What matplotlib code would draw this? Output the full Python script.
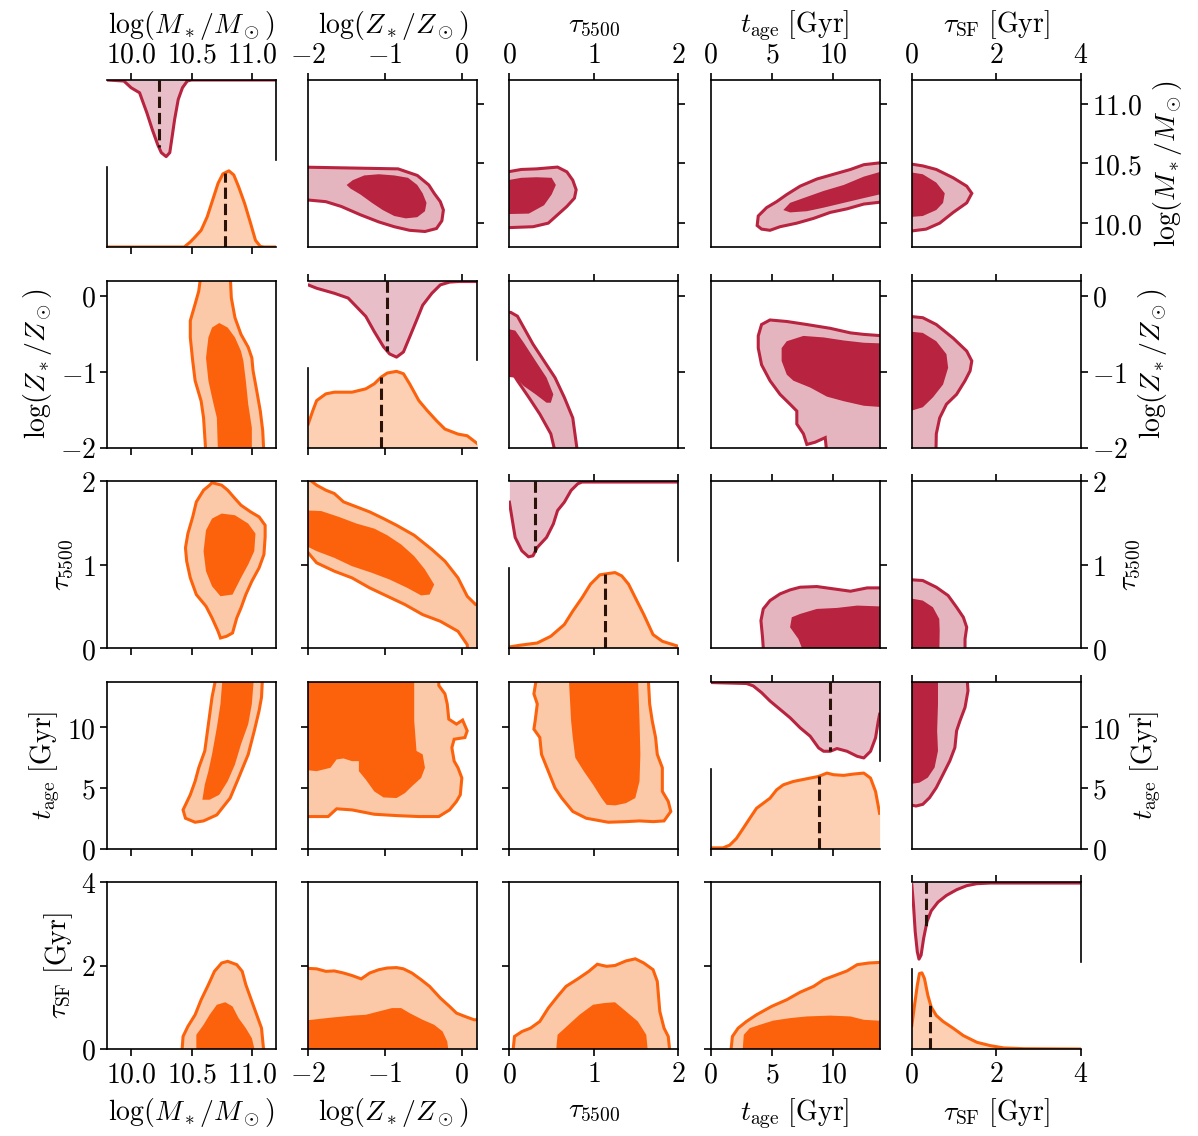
import numpy as np
import matplotlib.pyplot as plt

plt.rcParams['mathtext.fontset'] = 'cm'
plt.rcParams['font.size'] = 20
plt.rcParams['axes.linewidth'] = 1.2
for a in ('xtick', 'ytick'):
    plt.rcParams[a + '.direction'] = 'out'
    plt.rcParams[a + '.major.size'] = 5
    plt.rcParams[a + '.major.width'] = 1.2
    plt.rcParams[a + '.major.pad'] = 3

# parameters
labels = [r'$\log(M_*/M_\odot)$', r'$\log(Z_*/Z_\odot)$', r'$\tau_{5500}$',
          r'$t_\mathrm{age}\ [\mathrm{Gyr}]$', r'$\tau_\mathrm{SF}\ [\mathrm{Gyr}]$']
lims = [(9.8, 11.2), (-2.0, 0.2), (0.0, 2.0), (0.0, 13.8), (0.0, 4.0)]
ticks = [[10.0, 10.5, 11.0], [-2, -1, 0], [0, 1, 2], [0, 5, 10], [0, 2, 4]]
tick_text = [['10.0', '10.5', '11.0'], ['-2', '-1', '0'], ['0', '1', '2'],
             ['0', '5', '10'], ['0', '2', '4']]

# ---- lower triangle (orange) contours: (x, y) vertices ----
org_M_Z_out = [(10.58, 0.3), (10.56, 0.06), (10.53, -0.11), (10.49, -0.33), (10.49, -0.55),
               (10.51, -0.86), (10.53, -1.12), (10.58, -1.39), (10.60, -1.61), (10.62, -2.1),
               (11.10, -2.1), (11.09, -1.78), (11.07, -1.52), (11.04, -1.25), (11.01, -0.99),
               (11.0, -0.82), (10.97, -0.68), (10.91, -0.51), (10.86, -0.29), (10.83, -0.03),
               (10.82, 0.3)]
org_M_Z_in = [(10.73, -0.36), (10.67, -0.42), (10.64, -0.55), (10.62, -0.82), (10.64, -1.12),
              (10.67, -1.34), (10.71, -1.61), (10.72, -2.1), (11.0, -2.1), (11.0, -1.74),
              (10.97, -1.43), (10.95, -1.12), (10.93, -0.86), (10.91, -0.73), (10.86, -0.55),
              (10.80, -0.42)]
org_M_tau_out = [(10.67, 1.98), (10.75, 1.95), (10.80, 1.89), (10.86, 1.79), (10.91, 1.71),
                 (10.99, 1.63), (11.06, 1.57), (11.11, 1.47), (11.11, 1.33), (11.10, 1.12),
                 (11.06, 0.96), (11.0, 0.80), (10.95, 0.64), (10.91, 0.48), (10.875, 0.36),
                 (10.84, 0.18), (10.79, 0.14), (10.74, 0.12), (10.72, 0.20), (10.67, 0.36),
                 (10.62, 0.50), (10.54, 0.64), (10.49, 0.84), (10.46, 1.04), (10.45, 1.20),
                 (10.47, 1.37), (10.51, 1.57), (10.54, 1.75), (10.60, 1.89), (10.65, 1.95)]
org_M_tau_in = [(10.75, 1.61), (10.86, 1.59), (10.97, 1.49), (11.03, 1.37), (11.02, 1.16),
                (10.97, 1.0), (10.91, 0.84), (10.84, 0.64), (10.74, 0.62), (10.67, 0.74),
                (10.62, 0.92), (10.60, 1.16), (10.62, 1.41), (10.67, 1.55)]
org_Z_tau_out = [(-2.1, 2.1), (-1.89, 1.95), (-1.77, 1.89), (-1.66, 1.85), (-1.54, 1.75),
                 (-1.37, 1.69), (-1.20, 1.63), (-1.02, 1.55), (-0.85, 1.47), (-0.62, 1.35),
                 (-0.39, 1.18), (-0.22, 1.04), (-0.05, 0.84), (0.07, 0.62), (0.18, 0.52),
                 (0.3, 0.52), (0.3, -0.1), (0.08, -0.1), (0.07, 0.04), (-0.05, 0.20),
                 (-0.28, 0.32), (-0.51, 0.40), (-0.74, 0.52), (-0.97, 0.62), (-1.20, 0.72),
                 (-1.43, 0.84), (-1.66, 0.92), (-1.89, 1.02), (-2.0, 1.14), (-2.1, 1.14)]
org_Z_tau_in = [(-2.1, 1.65), (-1.83, 1.64), (-1.60, 1.57), (-1.37, 1.49), (-1.14, 1.43),
                (-0.97, 1.35), (-0.79, 1.24), (-0.62, 1.10), (-0.48, 0.94), (-0.36, 0.76),
                (-0.42, 0.64), (-0.53, 0.63), (-0.71, 0.72), (-0.94, 0.82), (-1.17, 0.90),
                (-1.43, 0.98), (-1.66, 1.08), (-1.89, 1.16), (-2.0, 1.21), (-2.1, 1.21)]
org_M_age_out = [(10.71, 14.5), (10.67, 12.5), (10.64, 10.28), (10.61, 8.06), (10.56, 6.67),
                 (10.53, 5.56), (10.49, 4.44), (10.43, 3.19), (10.45, 2.5), (10.53, 2.17),
                 (10.60, 2.28), (10.71, 2.78), (10.82, 4.17), (10.89, 5.83), (10.97, 7.78),
                 (11.02, 9.72), (11.06, 11.39), (11.08, 12.5), (11.09, 14.5)]
org_M_age_in = [(10.76, 14.5), (10.74, 11.94), (10.71, 10.0), (10.67, 7.78), (10.64, 6.39),
                (10.61, 5.28), (10.59, 4.03), (10.65, 4.03), (10.73, 4.44), (10.80, 5.56),
                (10.86, 6.94), (10.91, 8.61), (10.97, 10.28), (11.0, 11.94), (11.02, 14.5)]
org_Z_age_out = [(-2.1, 14.5), (-2.1, 2.64), (-1.74, 2.64), (-1.63, 3.28), (-1.43, 3.19),
                 (-1.14, 2.83), (-0.85, 2.72), (-0.56, 2.64), (-0.30, 2.64), (-0.16, 3.19),
                 (-0.07, 3.89), (-0.02, 4.44), (0.0, 5.83), (-0.05, 6.67), (-0.10, 7.22),
                 (-0.13, 8.33), (-0.10, 9.03), (0.04, 9.17), (0.07, 9.72), (0.01, 10.61),
                 (-0.07, 10.28), (-0.17, 10.69), (-0.19, 11.94), (-0.22, 12.78), (-0.30, 13.47),
                 (-0.30, 14.5)]
org_Z_age_in = [(-2.1, 14.5), (-2.1, 6.53), (-1.89, 6.39), (-1.71, 6.67), (-1.63, 7.36),
                (-1.54, 7.44), (-1.43, 7.22), (-1.34, 7.22), (-1.34, 6.39), (-1.25, 5.69),
                (-1.14, 4.72), (-1.02, 4.22), (-0.85, 4.17), (-0.74, 4.58), (-0.65, 5.14),
                (-0.53, 5.83), (-0.48, 6.67), (-0.51, 7.78), (-0.59, 8.06), (-0.62, 10.56),
                (-0.62, 14.5)]
org_tau_age_out = [(0.33, 14.5), (0.29, 12.78), (0.33, 11.94), (0.305, 10.56), (0.29, 9.86),
                   (0.36, 9.17), (0.38, 7.78), (0.46, 6.39), (0.54, 5.0), (0.62, 4.17),
                   (0.75, 3.06), (0.91, 2.5), (1.17, 2.17), (1.38, 2.22), (1.54, 2.28),
                   (1.70, 2.22), (1.83, 2.28), (1.91, 3.06), (1.88, 3.89), (1.81, 4.72),
                   (1.81, 5.83), (1.81, 6.67), (1.75, 7.78), (1.73, 9.17), (1.69, 10.56),
                   (1.66, 11.94), (1.64, 14.5)]
org_tau_age_in = [(0.70, 14.5), (0.73, 10.56), (0.75, 9.17), (0.78, 7.5), (0.88, 6.39),
                  (0.99, 5.28), (1.09, 4.17), (1.15, 3.61), (1.25, 3.56), (1.38, 3.75),
                  (1.49, 4.17), (1.54, 5.56), (1.55, 7.78), (1.54, 10.56), (1.52, 14.5)]
org_M_sf_out = [(10.42, -0.1), (10.43, 0.30), (10.47, 0.54), (10.53, 0.82), (10.58, 1.18),
                (10.64, 1.54), (10.69, 1.86), (10.75, 2.06), (10.80, 2.10), (10.875, 2.02),
                (10.92, 1.86), (10.95, 1.54), (10.99, 1.22), (11.04, 0.82), (11.08, 0.50),
                (11.10, -0.1)]
org_M_sf_in = [(10.54, -0.1), (10.54, 0.34), (10.60, 0.58), (10.65, 0.82), (10.71, 1.06),
               (10.78, 1.12), (10.84, 1.02), (10.89, 0.74), (10.95, 0.50), (11.0, 0.26),
               (11.03, -0.1)]
org_Z_sf_out = [(-2.1, -0.1), (-2.1, 1.94), (-1.89, 1.92), (-1.77, 1.86), (-1.66, 1.87),
                (-1.54, 1.82), (-1.43, 1.76), (-1.31, 1.68), (-1.20, 1.82), (-1.08, 1.90),
                (-0.97, 1.94), (-0.85, 1.95), (-0.76, 1.92), (-0.65, 1.82), (-0.53, 1.66),
                (-0.42, 1.50), (-0.28, 1.22), (-0.16, 1.02), (-0.07, 0.86), (0.04, 0.78),
                (0.16, 0.70), (0.3, 0.70), (0.3, -0.1)]
org_Z_sf_in = [(-2.1, -0.1), (-2.1, 0.67), (-1.71, 0.75), (-1.43, 0.80), (-1.25, 0.82),
               (-1.08, 0.90), (-0.91, 0.98), (-0.79, 0.98), (-0.68, 0.86), (-0.51, 0.70),
               (-0.36, 0.58), (-0.25, 0.42), (-0.19, 0.18), (-0.17, -0.1)]
org_tau_sf_out = [(0.04, -0.1), (0.06, 0.30), (0.15, 0.42), (0.25, 0.50), (0.36, 0.66),
                  (0.46, 0.98), (0.57, 1.26), (0.67, 1.50), (0.81, 1.68), (0.94, 1.86),
                  (1.04, 2.03), (1.15, 1.98), (1.25, 2.0), (1.38, 2.11), (1.49, 2.16),
                  (1.59, 2.06), (1.70, 1.90), (1.75, 1.62), (1.78, 0.90), (1.83, 0.50),
                  (1.88, 0.30), (1.90, -0.1)]
org_tau_sf_in = [(0.55, -0.1), (0.57, 0.34), (0.70, 0.58), (0.83, 0.82), (0.99, 1.06),
                 (1.12, 1.10), (1.25, 1.12), (1.38, 0.90), (1.52, 0.66), (1.62, 0.34),
                 (1.64, -0.1)]
org_age_sf_out = [(1.64, -0.1), (1.78, 0.30), (2.25, 0.50), (2.93, 0.66), (3.75, 0.82),
                  (4.98, 1.02), (6.22, 1.18), (7.31, 1.36), (8.41, 1.50), (9.23, 1.66),
                  (10.32, 1.78), (11.14, 1.87), (11.97, 2.02), (12.92, 2.06), (14.2, 2.08),
                  (14.2, -0.1)]
org_age_sf_in = [(2.60, -0.1), (2.71, 0.34), (3.20, 0.50), (4.02, 0.58), (5.12, 0.68),
                 (6.49, 0.74), (7.86, 0.78), (9.77, 0.80), (11.42, 0.78), (12.51, 0.70),
                 (14.2, 0.67), (14.2, -0.1)]

# ---- upper triangle (crimson) contours ----
crm_Z_M_out = [(-2.1, 10.47), (-0.83, 10.455), (-0.58, 10.40), (-0.43, 10.32), (-0.36, 10.25),
               (-0.28, 10.18), (-0.24, 10.11), (-0.26, 10.02), (-0.33, 9.955), (-0.48, 9.93),
               (-0.68, 9.94), (-0.88, 9.97), (-1.08, 10.01), (-1.32, 10.07), (-1.57, 10.14),
               (-1.77, 10.18), (-2.1, 10.20)]
crm_Z_M_in = [(-1.50, 10.32), (-1.42, 10.36), (-1.27, 10.40), (-1.08, 10.41), (-0.88, 10.40),
              (-0.70, 10.38), (-0.58, 10.32), (-0.51, 10.25), (-0.46, 10.17), (-0.48, 10.10),
              (-0.58, 10.05), (-0.73, 10.04), (-0.88, 10.06), (-1.03, 10.11), (-1.17, 10.17),
              (-1.32, 10.24), (-1.45, 10.29)]
crm_tau_M_out = [(-0.1, 10.42), (0.14, 10.45), (0.32, 10.455), (0.57, 10.47), (0.68, 10.43),
                 (0.75, 10.36), (0.79, 10.28), (0.77, 10.21), (0.68, 10.14), (0.57, 10.07),
                 (0.46, 10.0), (0.28, 9.97), (-0.1, 9.96)]
crm_tau_M_in = [(-0.1, 10.35), (0.14, 10.38), (0.32, 10.385), (0.50, 10.38), (0.55, 10.32),
                (0.50, 10.24), (0.41, 10.15), (0.23, 10.08), (-0.1, 10.075)]
crm_age_M_out = [(3.89, 10.06), (4.57, 10.13), (5.39, 10.18), (6.22, 10.24), (7.31, 10.31),
                 (8.68, 10.37), (10.05, 10.41), (11.42, 10.45), (12.51, 10.49), (14.2, 10.51),
                 (14.2, 10.18), (12.51, 10.16), (11.14, 10.12), (9.77, 10.09), (8.41, 10.04),
                 (7.04, 10.0), (5.67, 9.97), (4.85, 9.94), (4.16, 9.95), (3.80, 9.98)]
crm_age_M_in = [(5.94, 10.11), (6.49, 10.17), (7.58, 10.21), (9.23, 10.27), (10.87, 10.32),
                (12.51, 10.39), (14.2, 10.44), (14.2, 10.25), (12.51, 10.21), (10.87, 10.17),
                (9.23, 10.13), (7.86, 10.10), (6.49, 10.09)]
crm_sf_M_out = [(-0.1, 10.50), (0.26, 10.48), (0.58, 10.45), (0.98, 10.38), (1.30, 10.31),
                (1.42, 10.25), (1.30, 10.17), (0.98, 10.09), (0.66, 10.0), (0.34, 9.95),
                (-0.1, 9.93)]
crm_sf_M_in = [(-0.1, 10.43), (0.26, 10.41), (0.58, 10.34), (0.78, 10.25), (0.74, 10.17),
               (0.58, 10.11), (0.26, 10.06), (-0.1, 10.05)]
crm_tau_Z_out = [(-0.1, -0.22), (0.016, -0.22), (0.095, -0.27), (0.17, -0.42), (0.28, -0.64),
                 (0.41, -0.86), (0.54, -1.08), (0.65, -1.34), (0.75, -1.61), (0.81, -2.1),
                 (0.55, -2.1), (0.49, -1.82), (0.36, -1.56), (0.23, -1.34), (0.095, -1.12),
                 (0.0, -0.95), (-0.1, -0.95)]
crm_tau_Z_in = [(-0.1, -0.42), (0.07, -0.46), (0.17, -0.62), (0.31, -0.86), (0.44, -1.08),
                (0.52, -1.30), (0.49, -1.41), (0.44, -1.41), (0.31, -1.30), (0.17, -1.19),
                (0.07, -1.08), (-0.1, -1.06)]
crm_age_Z_out = [(3.89, -0.53), (4.16, -0.38), (4.85, -0.32), (6.22, -0.34), (7.86, -0.38),
                 (9.77, -0.43), (11.42, -0.49), (12.51, -0.51), (14.2, -0.53), (14.2, -2.1),
                 (9.50, -2.1), (9.36, -1.87), (8.54, -1.93), (7.86, -1.96), (7.58, -1.82),
                 (7.04, -1.69), (7.04, -1.52), (6.49, -1.43), (5.67, -1.30), (4.85, -1.12),
                 (4.16, -0.91), (3.89, -0.69)]
crm_age_Z_in = [(5.80, -0.69), (6.22, -0.60), (7.58, -0.53), (9.23, -0.55), (10.87, -0.59),
                (12.51, -0.62), (14.2, -0.63), (14.2, -1.47), (12.51, -1.45), (10.87, -1.39),
                (9.50, -1.33), (8.13, -1.21), (6.76, -1.12), (6.22, -1.04), (5.80, -0.86)]
crm_sf_Z_out = [(-0.1, -0.27), (0.26, -0.29), (0.58, -0.38), (0.98, -0.56), (1.30, -0.73),
                (1.42, -0.86), (1.38, -0.99), (1.26, -1.12), (1.06, -1.30), (0.82, -1.43),
                (0.66, -1.61), (0.58, -1.82), (0.57, -2.1), (-0.1, -2.1)]
crm_sf_Z_in = [(-0.1, -0.47), (0.26, -0.49), (0.58, -0.60), (0.82, -0.77), (0.86, -0.95),
               (0.74, -1.17), (0.50, -1.34), (0.26, -1.47), (-0.1, -1.53)]
crm_age_tau_out = [(4.35, -0.1), (4.24, 0.128), (4.11, 0.328), (4.30, 0.468), (4.85, 0.568),
                   (5.67, 0.648), (6.49, 0.696), (7.31, 0.728), (8.68, 0.736), (10.05, 0.708),
                   (11.42, 0.68), (12.79, 0.72), (14.2, 0.72), (14.2, -0.1)]
crm_age_tau_in = [(7.72, -0.1), (7.17, 0.108), (6.49, 0.248), (6.63, 0.368), (7.31, 0.408),
                  (8.68, 0.468), (10.32, 0.48), (11.97, 0.508), (14.2, 0.496), (14.2, -0.1)]
crm_sf_tau_out = [(-0.1, 0.82), (0.26, 0.808), (0.58, 0.728), (0.86, 0.628), (1.06, 0.488),
                  (1.22, 0.368), (1.30, 0.248), (1.26, 0.108), (1.26, -0.1), (-0.1, -0.1)]
crm_sf_tau_in = [(-0.1, 0.60), (0.26, 0.568), (0.50, 0.488), (0.65, 0.348), (0.66, 0.208),
                 (0.65, -0.1), (-0.1, -0.1)]
crm_sf_age_out = [(-0.1, 3.65), (0.10, 3.51), (0.26, 3.65), (0.42, 4.20), (0.58, 5.03),
                  (0.74, 6.13), (0.90, 7.24), (1.02, 8.34), (1.06, 9.72), (1.14, 10.55),
                  (1.26, 11.66), (1.33, 13.04), (1.30, 14.5), (-0.1, 14.5)]
crm_sf_age_in = [(-0.1, 5.30), (0.18, 5.44), (0.38, 5.86), (0.54, 6.69), (0.62, 8.07),
                 (0.60, 9.72), (0.62, 11.93), (0.62, 14.5), (-0.1, 14.5)]

# ---- 1D marginals (x, relative density) and medians ----
d1_M_crm_x = [9.8, 9.94, 10.0, 10.07, 10.10, 10.13, 10.175, 10.22, 10.25, 10.29, 10.32, 10.34,
              10.36, 10.39, 10.425, 10.465, 10.50, 11.2]
d1_M_crm_h = [0, 0.013, 0.097, 0.16, 0.286, 0.41, 0.62, 0.81, 0.91, 0.96, 0.91, 0.706, 0.496,
              0.244, 0.097, 0.013, 0, 0]
d1_M_org_x = [9.8, 10.44, 10.49, 10.53, 10.58, 10.63, 10.675, 10.72, 10.76, 10.81, 10.85, 10.89,
              10.94, 10.99, 11.03, 11.07, 11.10, 11.2]
d1_M_org_h = [0, 0, 0.063, 0.126, 0.21, 0.378, 0.588, 0.798, 0.916, 0.954, 0.903, 0.756, 0.546,
              0.294, 0.084, 0.008, 0, 0]
d1_Z_crm_x = [-2, -1.89, -1.66, -1.48, -1.37, -1.25, -1.14, -1.02, -0.94, -0.85, -0.76, -0.68,
              -0.59, -0.51, -0.39, -0.28, -0.16, -0.05, 0.2]
d1_Z_crm_h = [0.055, 0.097, 0.16, 0.22, 0.33, 0.45, 0.64, 0.83, 0.92, 0.96, 0.895, 0.71, 0.50,
              0.31, 0.16, 0.055, 0.02, 0.013, 0.013]
d1_Z_org_x = [-2, -1.94, -1.89, -1.77, -1.66, -1.43, -1.25, -1.14, -1.05, -0.97, -0.85, -0.76,
              -0.68, -0.56, -0.45, -0.33, -0.22, -0.05, 0.07, 0.2]
d1_Z_org_h = [0.294, 0.462, 0.588, 0.672, 0.693, 0.693, 0.735, 0.798, 0.882, 0.933, 0.954,
              0.924, 0.798, 0.588, 0.462, 0.336, 0.231, 0.168, 0.147, 0.05]
d1_tau_crm_x = [0, 0.068, 0.147, 0.226, 0.279, 0.33, 0.44, 0.52, 0.57, 0.65, 0.73, 0.81, 0.86, 2]
d1_tau_crm_h = [0.265, 0.706, 0.874, 0.95, 0.937, 0.832, 0.706, 0.538, 0.37, 0.265, 0.118,
                0.034, 0.013, 0.013]
d1_tau_org_x = [0, 0.12, 0.33, 0.49, 0.65, 0.75, 0.86, 0.96, 1.07, 1.17, 1.25, 1.33, 1.41, 1.49,
                1.59, 1.70, 1.81, 2]
d1_tau_org_h = [0.013, 0.034, 0.063, 0.147, 0.294, 0.462, 0.63, 0.80, 0.916, 0.933, 0.945,
                0.903, 0.80, 0.63, 0.42, 0.168, 0.084, 0.021]
d1_age_crm_x = [0, 2.93, 3.48, 4.16, 4.85, 5.67, 6.49, 7.31, 8.13, 8.82, 9.23, 9.77, 10.32,
                11.14, 11.97, 12.51, 13.06, 13.47, 13.69, 13.8]
d1_age_crm_h = [0.013, 0.025, 0.055, 0.139, 0.244, 0.349, 0.454, 0.58, 0.685, 0.832, 0.874,
                0.874, 0.84, 0.874, 0.937, 0.958, 0.874, 0.706, 0.496, 0.41]
d1_age_org_x = [0, 1.01, 1.56, 2.11, 2.66, 3.20, 3.75, 4.30, 4.85, 5.39, 5.94, 6.76, 7.86, 8.82,
                9.50, 10.05, 10.87, 11.69, 12.51, 13.06, 13.47, 13.8]
d1_age_org_h = [0.008, 0.008, 0.042, 0.126, 0.252, 0.378, 0.504, 0.567, 0.63, 0.735, 0.798,
                0.84, 0.874, 0.903, 0.945, 0.924, 0.916, 0.933, 0.945, 0.882, 0.714, 0.441]
d1_sf_crm_x = [0, 0.04, 0.08, 0.13, 0.17, 0.22, 0.28, 0.36, 0.46, 0.62, 0.82, 1.06, 1.30, 1.54,
               1.86, 4]
d1_sf_crm_h = [0.034, 0.286, 0.62, 0.874, 0.966, 0.916, 0.706, 0.496, 0.361, 0.252, 0.168,
               0.097, 0.046, 0.021, 0.013, 0.013]
d1_sf_org_x = [0, 0.064, 0.13, 0.18, 0.24, 0.30, 0.38, 0.46, 0.58, 0.74, 0.98, 1.22, 1.54, 1.86,
               2.18, 2.66, 4]
d1_sf_org_h = [0.294, 0.546, 0.798, 0.945, 0.954, 0.882, 0.672, 0.525, 0.42, 0.345, 0.26,
               0.168, 0.084, 0.042, 0.013, 0.004, 0]

med_crm = [10.23, -0.97, 0.305, 9.72, 0.34]
med_org = [10.78, -1.05, 1.13, 8.82, 0.42]

lower = {(1, 0): (org_M_Z_out, org_M_Z_in), (2, 0): (org_M_tau_out, org_M_tau_in),
         (2, 1): (org_Z_tau_out, org_Z_tau_in), (3, 0): (org_M_age_out, org_M_age_in),
         (3, 1): (org_Z_age_out, org_Z_age_in), (3, 2): (org_tau_age_out, org_tau_age_in),
         (4, 0): (org_M_sf_out, org_M_sf_in), (4, 1): (org_Z_sf_out, org_Z_sf_in),
         (4, 2): (org_tau_sf_out, org_tau_sf_in), (4, 3): (org_age_sf_out, org_age_sf_in)}
upper = {(0, 1): (crm_Z_M_out, crm_Z_M_in), (0, 2): (crm_tau_M_out, crm_tau_M_in),
         (0, 3): (crm_age_M_out, crm_age_M_in), (0, 4): (crm_sf_M_out, crm_sf_M_in),
         (1, 2): (crm_tau_Z_out, crm_tau_Z_in), (1, 3): (crm_age_Z_out, crm_age_Z_in),
         (1, 4): (crm_sf_Z_out, crm_sf_Z_in), (2, 3): (crm_age_tau_out, crm_age_tau_in),
         (2, 4): (crm_sf_tau_out, crm_sf_tau_in), (3, 4): (crm_sf_age_out, crm_sf_age_in)}
diag_crm = [(d1_M_crm_x, d1_M_crm_h), (d1_Z_crm_x, d1_Z_crm_h), (d1_tau_crm_x, d1_tau_crm_h),
            (d1_age_crm_x, d1_age_crm_h), (d1_sf_crm_x, d1_sf_crm_h)]
diag_org = [(d1_M_org_x, d1_M_org_h), (d1_Z_org_x, d1_Z_org_h), (d1_tau_org_x, d1_tau_org_h),
            (d1_age_org_x, d1_age_org_h), (d1_sf_org_x, d1_sf_org_h)]

ORG, ORG_L, ORG_1D = '#fc620c', '#fcc9a8', '#fdcfb3'
CRM, CRM_L, CRM_1D = '#b8233f', '#e5b5bf', '#e8bfc8'
MED = '#2a1208'

W, H = 1198, 1136
fig = plt.figure(figsize=(W / 100, H / 100), dpi=100)
X0, Y0, CW, CH, PX, PY = 107, 80, 169, 167, 201.2, 200.5


def cell(r, c, f0=0.0, f1=1.0):
    top = Y0 + r * PY + f0 * CH
    bot = Y0 + r * PY + f1 * CH
    return [(X0 + c * PX) / W, 1 - bot / H, CW / W, (bot - top) / H]


def set_ticks(ax, i, axis):
    lab = [r'$\mathrm{%s}$' % t for t in tick_text[i]]
    if axis == 'x':
        ax.set_xticks(ticks[i])
        ax.set_xticklabels(lab)
    else:
        ax.set_yticks(ticks[i])
        ax.set_yticklabels(lab)


for r in range(5):
    for c in range(5):
        if r == c:
            continue
        ax = fig.add_axes(cell(r, c))
        ax.set_xlim(lims[c])
        ax.set_ylim(lims[r])
        set_ticks(ax, c, 'x')
        set_ticks(ax, r, 'y')
        if r > c:
            out, inn = lower[(r, c)]
            dark, light = ORG, ORG_L
            ax.tick_params(bottom=True, left=True, top=False, right=False,
                           labelbottom=(r == 4), labelleft=(c == 0),
                           labeltop=False, labelright=False)
            if c == 0:
                ax.set_ylabel(labels[r], labelpad=4)
            if r == 4:
                ax.set_xlabel(labels[c], labelpad=6)
        else:
            out, inn = upper[(r, c)]
            dark, light = CRM, CRM_L
            ax.tick_params(bottom=False, left=False, top=True, right=True,
                           labelbottom=False, labelleft=False,
                           labeltop=(r == 0), labelright=(c == 4))
            if r == 0:
                ax.xaxis.set_label_position('top')
                ax.set_xlabel(labels[c], labelpad=6)
            if c == 4:
                ax.yaxis.set_label_position('right')
                ax.set_ylabel(labels[r], labelpad=6)
        ax.fill(*zip(*out), facecolor=light, edgecolor=dark, lw=2.2)
        ax.fill(*zip(*inn), facecolor=dark, edgecolor='none')

for i in range(5):
    # upper half: crimson marginal hanging from the top
    x, h = diag_crm[i]
    ax = fig.add_axes(cell(i, i, 0.0, 0.478))
    ax.set_xlim(lims[i])
    ax.set_ylim(1.0, 0.0)
    ax.fill_between(x, 0, h, color=CRM_1D, lw=0)
    ax.plot(x, h, color=CRM, lw=2.2)
    ax.plot([med_crm[i]] * 2, [0, np.interp(med_crm[i], x, h)], ls='--', color=MED, lw=2.2)
    ax.spines['left'].set_visible(False)
    ax.spines['bottom'].set_visible(False)
    set_ticks(ax, i, 'x')
    ax.set_yticks([])
    ax.tick_params(bottom=False, top=True, labelbottom=False, labeltop=(i == 0))
    if i == 0:
        ax.xaxis.set_label_position('top')
        ax.set_xlabel(labels[i], labelpad=6)

    # lower half: orange marginal
    x, h = diag_org[i]
    ax = fig.add_axes(cell(i, i, 0.522, 1.0))
    ax.set_xlim(lims[i])
    ax.set_ylim(0.0, 1.0)
    ax.fill_between(x, 0, h, color=ORG_1D, lw=0)
    ax.plot(x, h, color=ORG, lw=2.2)
    ax.plot([med_org[i]] * 2, [0, np.interp(med_org[i], x, h)], ls='--', color=MED, lw=2.2)
    ax.spines['right'].set_visible(False)
    ax.spines['top'].set_visible(False)
    set_ticks(ax, i, 'x')
    ax.set_yticks([])
    ax.tick_params(bottom=True, top=False, labelbottom=(i == 4))
    if i == 4:
        ax.set_xlabel(labels[i], labelpad=6)

fig.savefig('out.png', dpi=100)
